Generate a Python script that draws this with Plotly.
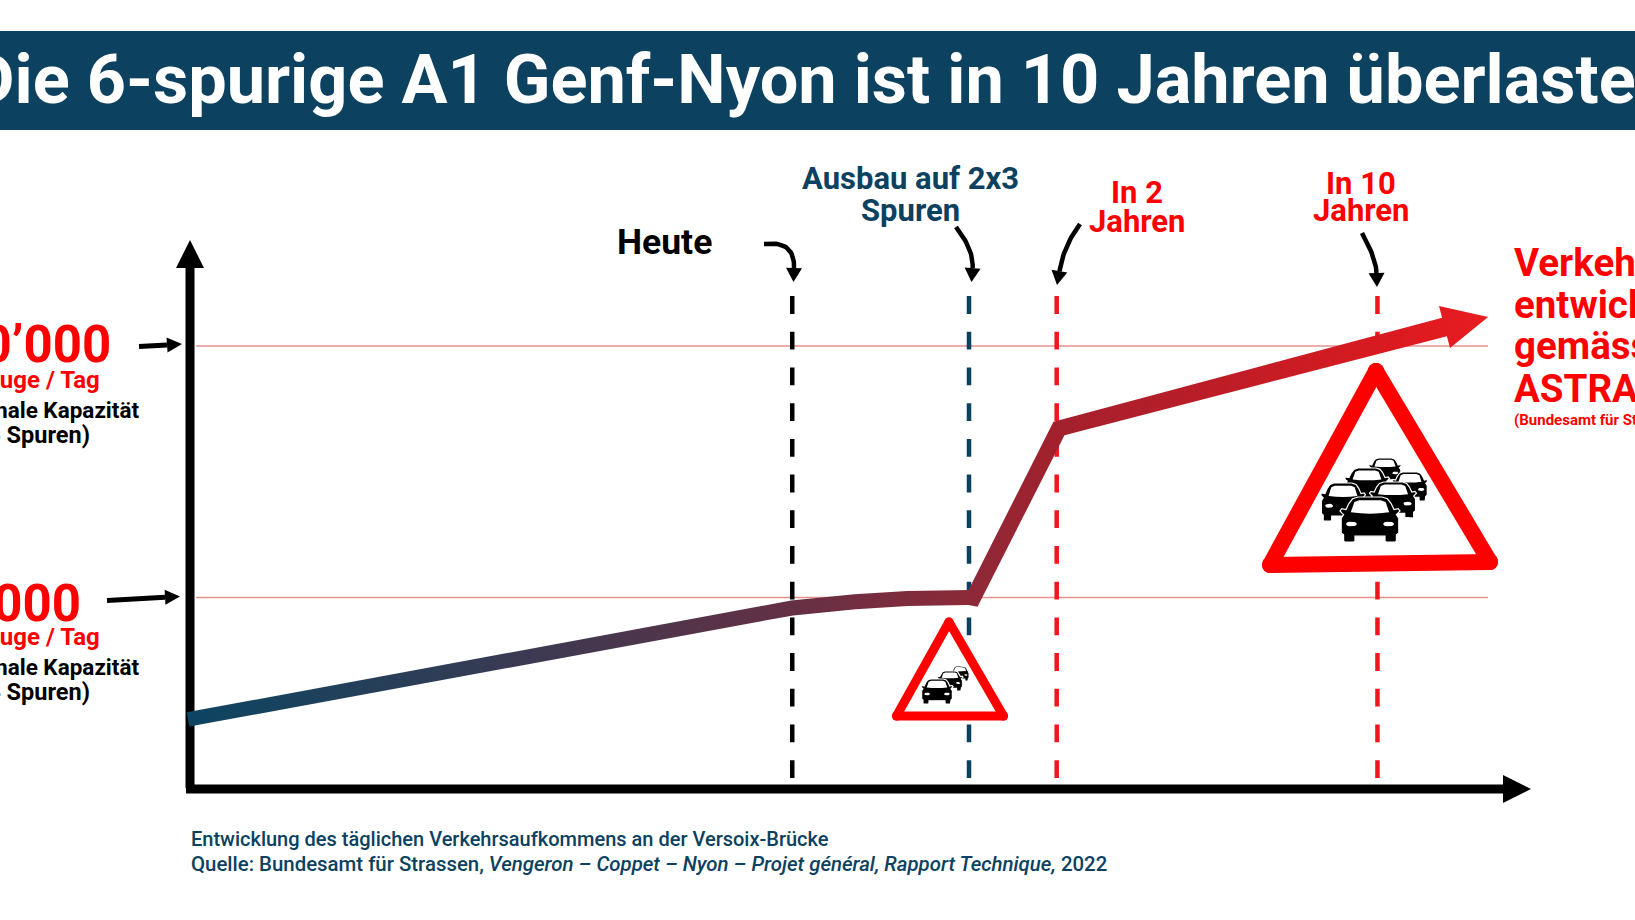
import numpy as np
import plotly.graph_objects as go

# ---- data ----
capacity_values = [100000, 80000]
capacity_big = ["100’000", "80’000"]
capacity_lanes = ["(6 Spuren)", "(4 Spuren)"]
curve_x = [-0.15, 44.9, 49.6, 53.5, 58.1, 58.4, 64.8, 93.55]
curve_y = [70300, 79170, 79670, 79920, 80000, 79950, 93440, 101510]
head_x = [93.14, 96.8, 93.96]
head_y = [103180, 102306, 99840]
event_names = ["Heute", "Ausbau", "In 2 Jahren", "In 10 Jahren"]
event_x = [44.91, 58.09, 64.63, 88.55]
event_y_range = [103970, 65570]
gridline_x = [0.45, 96.8]
axis_x_range = [0, 100]
axis_y_range = [64850, 124000]

# ---- page geometry ----
W, H = 1635, 920
NAVY = "#0c4160"
RED = "#fe0000"
KX, KY = 13.41, 79.52
dx = lambda p: (np.asarray(p, float) - 190) / KX
dy = lambda p: 100000 - (np.asarray(p, float) - 346) * KY
to_px = lambda x: np.asarray(x, float) * KX + 190
to_py = lambda y: 346 + (100000 - np.asarray(y, float)) / KY

fig = go.Figure()


def poly(px, py, color, line=None, lw=0):
    fig.add_trace(go.Scatter(
        x=dx(px), y=dy(py), mode="lines", fill="toself", fillcolor=color,
        line=dict(color=line or color, width=lw), hoverinfo="skip"))


def stroke(px, py, color, lw):
    fig.add_trace(go.Scatter(x=dx(px), y=dy(py), mode="lines",
                             line=dict(color=color, width=lw), hoverinfo="skip"))


def arrow(start, ctrl, tip, lw=4.5, hl=14, hw=8):
    t = np.linspace(0, 1, 24)
    s, c, e = map(np.array, (start, ctrl, tip))
    d = c - e
    d = d / np.hypot(*d)
    base = e + d * hl
    t = t[:, None]
    pts = (1 - t) ** 2 * s + 2 * t * (1 - t) * c + t ** 2 * base
    stroke(pts[:, 0], pts[:, 1], "#000000", lw)
    n = np.array([-d[1], d[0]])
    a, b = base + n * hw, base - n * hw
    poly([a[0], e[0], b[0], a[0]], [a[1], e[1], b[1], a[1]], "#000000")


# grid lines
for v in capacity_values:
    fig.add_trace(go.Scatter(x=gridline_x, y=[v, v], mode="lines",
                             line=dict(color="#e9928c", width=1.7), hoverinfo="skip"))

# dashed event lines
for x, col in zip(event_x, ["#000000", NAVY, "#f5141c", "#f5141c"]):
    fig.add_trace(go.Scatter(x=[x, x], y=event_y_range, mode="lines",
                             line=dict(color=col, width=4.5, dash="17.8px,17.9px"), hoverinfo="skip"))

# axes
fig.add_trace(go.Scatter(x=[axis_x_range[0], axis_x_range[0]],
                         y=[axis_y_range[0], dy(268)], mode="lines",
                         line=dict(color="#000000", width=9), hoverinfo="skip"))
poly([176, 190, 204, 176], [268, 240, 268, 268], "#000000")
fig.add_trace(go.Scatter(x=[dx(186), dx(1505)], y=[dy(789), dy(789)], mode="lines",
                         line=dict(color="#000000", width=9), hoverinfo="skip"))
poly([1503, 1531, 1503, 1503], [775, 789, 803, 775], "#000000")

# thick tapered gradient curve built from the series
cx, cy = to_px(curve_x), to_py(curve_y)
widths = np.array([14.5, 15, 15, 15, 15, 15.5, 16, 19])
top, bot = [], []
for i in range(len(cx)):
    if i == 0:
        a = b = np.array([cx[1] - cx[0], cy[1] - cy[0]])
    elif i == len(cx) - 1:
        a = b = np.array([cx[i] - cx[i - 1], cy[i] - cy[i - 1]])
    else:
        a = np.array([cx[i] - cx[i - 1], cy[i] - cy[i - 1]])
        b = np.array([cx[i + 1] - cx[i], cy[i + 1] - cy[i]])
    a = a / np.hypot(*a)
    b = b / np.hypot(*b)
    m = a + b
    m = m / np.hypot(*m)
    n = np.array([m[1], -m[0]])
    scale = widths[i] / 2 / max(0.5, abs(n @ np.array([a[1], -a[0]])))
    top.append((cx[i] + n[0] * scale, cy[i] + n[1] * scale))
    bot.append((cx[i] - n[0] * scale, cy[i] - n[1] * scale))
top, bot = np.array(top), np.array(bot)
hx, hy = to_px(head_x), to_py(head_y)
ox = np.r_[top[:, 0], hx, bot[::-1, 0], top[0, 0]]
oy = np.r_[top[:, 1], hy, bot[::-1, 1], top[0, 1]]
fig.add_trace(go.Scatter(
    x=dx(ox), y=dy(oy), mode="none", fill="toself",
    fillgradient=dict(type="horizontal", colorscale=[
        [0, "#0c4562"], [0.256, "#3a3a52"], [0.465, "#643045"], [0.6, "#8c2a38"],
        [0.67, "#a3202d"], [0.915, "#d81a20"], [1, "#e81c20"]]),
    hoverinfo="skip"))

# warning signs
BODY_R = [(0, 0), (.2, 0), (.29, .04), (.35, .14), (.40, .28), (.47, .26), (.5, .31), (.46, .37),
          (.44, .39), (.48, .47), (.48, .8), (.44, .84), (.44, .98), (.42, 1), (.27, 1),
          (.25, .98), (.25, .87), (0, .87)]
GLASS_R = [(0, .07), (.18, .07), (.26, .11), (.32, .34), (.16, .36), (0, .37)]


def mirror(half):
    h = np.array(half)
    return np.r_[h, (h[::-1] * [-1, 1])[1:]]


def car(xc, top_y, w, h):
    b, g = mirror(BODY_R), mirror(GLASS_R)
    poly(xc + b[:, 0] * w, top_y + b[:, 1] * h, "#000000", "#ffffff", 1.2)
    poly(xc + g[:, 0] * w, top_y + g[:, 1] * h, "#ffffff")
    th = np.linspace(0, 2 * np.pi, 14)
    for s in (-1, 1):
        poly(xc + (s * .31 + .09 * np.cos(th)) * w, top_y + (.6 + .055 * np.sin(th)) * h, "#ffffff")


def sign(vx, vy, lw, cars):
    poly(list(vx) + [vx[0]], list(vy) + [vy[0]], "#ffffff")
    sx, sy = [], []
    for i in range(3):
        j = (i + 1) % 3
        sx += [vx[i], vx[j], None]
        sy += [vy[i], vy[j], None]
    fig.add_trace(go.Scatter(
        x=[None if v is None else float(dx(v)) for v in sx],
        y=[None if v is None else float(dy(v)) for v in sy],
        mode="lines+markers", line=dict(color=RED, width=lw),
        marker=dict(color=RED, size=lw, line=dict(width=0)), hoverinfo="skip"))
    for c in cars:
        car(*c)


sign([949, 896.5, 1003.5], [622, 716, 716], 9,
     [(960, 666, 19, 15), (950, 671, 26, 20), (937, 679, 32, 25)])
sign([1376, 1270, 1490], [371, 565, 562], 16,
     [(1385, 458, 33, 25), (1410, 472, 36, 29), (1367, 468, 45, 34),
      (1393, 482, 47, 36), (1343, 483, 45, 38), (1370, 497, 60, 45)])

# pointer arrows
arrow((764, 244), (795, 240), (793.5, 282))
arrow((956, 227), (974, 250), (971.5, 282))
arrow((1080, 224), (1064, 245), (1057, 285))
arrow((1362, 233), (1376, 258), (1377, 287))
arrow((139, 346.5), (160, 345.5), (182, 344), lw=5, hw=7.5, hl=15)
arrow((107, 600.5), (145, 598.5), (180, 596.5), lw=5, hw=7.5, hl=15)


def text(px, py, s, size, color, anchor="center", weight=700):
    fig.add_annotation(x=px / W, y=1 - py / H, xref="paper", yref="paper", text=s,
                       showarrow=False, xanchor=anchor, yanchor="middle",
                       borderpad=0, borderwidth=0,
                       font=dict(family="Roboto", size=size, color=color, weight=weight))


text(814.5, 79, "Die 6-spurige A1 Genf-Nyon ist in 10 Jahren überlastet", 68.5, "#ffffff")
text(664, 242, "Heute", 35.5, "#000000")
text(910.5, 178, "Ausbau auf 2x3", 31, NAVY)
text(910.5, 210, "Spuren", 31, NAVY)
text(1136.5, 192.5, "In 2", 31, RED)
text(1136.5, 221.5, "Jahren", 31, RED)
text(1361, 183, "In 10", 31, RED)
text(1361, 210.5, "Jahren", 31, RED)
for py, s in zip([263, 304, 345.5, 388], ["Verkehrs-", "entwicklung", "gemäss", "ASTRA"]):
    text(1514, py, s, 38.5, RED, "left")
text(1514, 419.5, "(Bundesamt für Strassen)", 15, RED, "left")
for off, big, lanes, xr in zip([0, 257], capacity_big, capacity_lanes, [111, 81]):
    text(xr, (344 if off == 0 else 603), big, 51, RED, "right")
    text(100, 380 + off, "Fahrzeuge / Tag", 24, RED, "right")
    text(139, 410 + off, "Maximale Kapazität", 22.5, "#000000", "right")
    text(90, 434.5 + off, lanes, 23.5, "#000000", "right")
text(191, 838.5, "Entwicklung des täglichen Verkehrsaufkommens an der Versoix-Brücke", 20, NAVY, "left", 500)
text(191, 863.5, "Quelle: Bundesamt für Strassen, <i>Vengeron – Coppet – Nyon – Projet général, Rapport Technique,</i> 2022",
     20.4, NAVY, "left", 500)

fig.update_layout(
    width=W, height=H, margin=dict(l=0, r=0, t=0, b=0, pad=0),
    paper_bgcolor="#ffffff", plot_bgcolor="#ffffff", showlegend=False, hovermode=False,
    xaxis=dict(range=[float(dx(0)), float(dx(W))], visible=False, fixedrange=True),
    yaxis=dict(range=[float(dy(H)), float(dy(0))], visible=False, fixedrange=True),
    shapes=[dict(type="rect", xref="paper", yref="paper", x0=0, x1=1,
                 y0=1 - 130 / H, y1=1 - 31 / H, fillcolor=NAVY, line=dict(width=0), layer="below")],
)
fig.write_html("out.html", config=dict(displayModeBar=False),
               post_script="document.body.style.margin='0';document.body.style.overflow='hidden';")
